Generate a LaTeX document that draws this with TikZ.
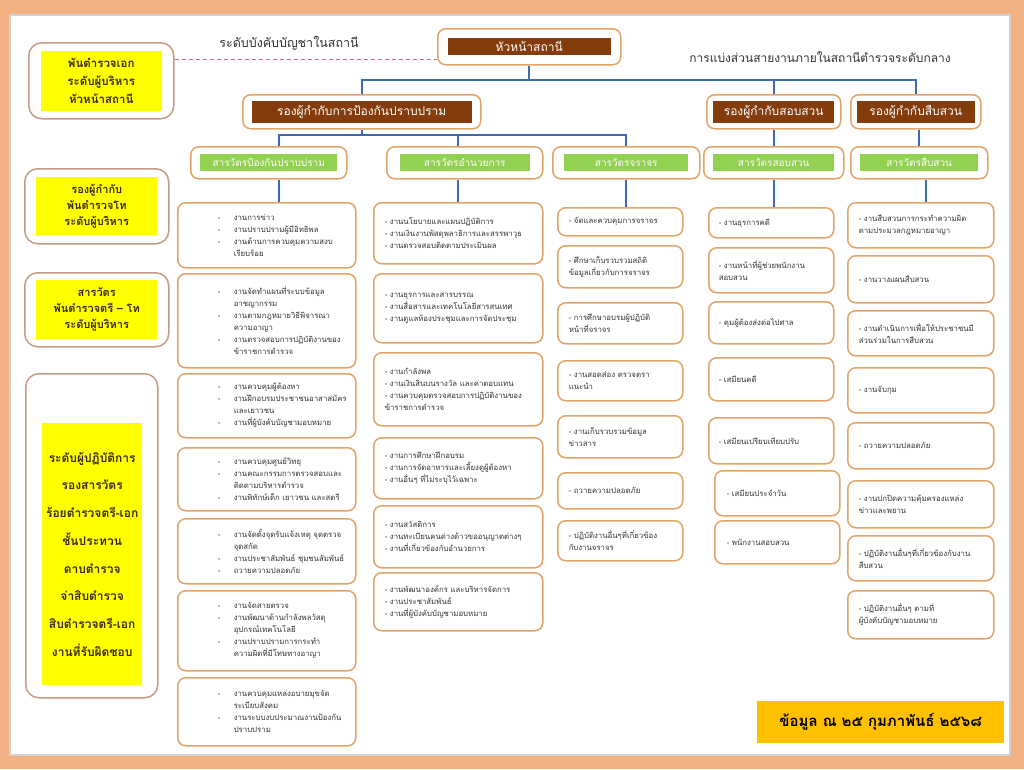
\documentclass[tikz,border=0pt]{standalone}
\usepackage{fontspec}
\setmainfont[Script=Thai]{Loma}
\definecolor{bg}{HTML}{F4B183}
\definecolor{pnl}{HTML}{D3D3D3}
\definecolor{boxc}{HTML}{E3A468}
\definecolor{lgdc}{HTML}{C99A86}
\definecolor{brn}{HTML}{843C0C}
\definecolor{grn}{HTML}{92D050}
\definecolor{ylw}{HTML}{FFFF00}
\definecolor{gold}{HTML}{FFC000}
\definecolor{lnc}{HTML}{3C6AB4}
\definecolor{dsh}{HTML}{D9667A}
\definecolor{txtc}{HTML}{333333}
\definecolor{lgt}{HTML}{3A2A10}
\newcommand{\tsz}{\fontsize{7.8}{12}\selectfont}
\newcommand{\da}{\hspace*{20pt}\makebox[16pt][l]{-}}
\newcommand{\db}{\hspace*{36pt}}
\tikzset{
  outer/.style={draw=boxc, line width=1.5pt, rounded corners=8pt, fill=white, inner sep=0pt, anchor=north west},
  task/.style={outer, inner xsep=0pt, inner ysep=2pt, align=left, font=\tsz, text=txtc},
  c1/.style={minimum width=178, text width=138},
  c2/.style={minimum width=169, text width=147},
  c3/.style={minimum width=125, text width=103},
  c4/.style={minimum width=125, text width=105},
  c5/.style={minimum width=146, text width=124},
  hd/.style={fill=brn, text=white, inner sep=0pt, font=\fontsize{12}{14}\selectfont},
  gr/.style={fill=grn, text=white, inner sep=0pt, minimum height=17, font=\fontsize{10}{12}\selectfont},
  lgd/.style={draw=lgdc, line width=1.5pt, rounded corners=13pt, fill=white, inner sep=0pt, anchor=north west},
  yel/.style={fill=ylw, text=lgt, inner sep=0pt, align=center, font=\bfseries\fontsize{11.5}{18}\selectfont},
  link/.style={draw=lnc, line width=2pt},
  dashln/.style={draw=dsh, line width=1.3pt, dash pattern=on 4pt off 3pt}
}
\begin{document}
\begin{tikzpicture}[x=1pt,y=-1pt]
\useasboundingbox (0,0) rectangle (1024,769);
\fill[bg] (0,0) rectangle (1024,769);
\filldraw[fill=white, draw=pnl, line width=2pt] (10,15) rectangle (1010,755);

% legend
\node[lgd, minimum width=145, minimum height=76] (l1) at (28,42) {};
\node[yel, minimum width=121, minimum height=60] (l1t) at (l1.center) {พันตำรวจเอก\\ระดับผู้บริหาร\\หัวหน้าสถานี};
\node[lgd, minimum width=144, minimum height=75] (l2) at (24,168) {};
\node[yel, minimum width=121, minimum height=58, font=\bfseries\fontsize{11}{16}\selectfont] (l2t) at (l2.center) {รองผู้กำกับ\\พันตำรวจโท\\ระดับผู้บริหาร};
\node[lgd, minimum width=144, minimum height=74] (l3) at (24,272) {};
\node[yel, minimum width=121, minimum height=59, font=\bfseries\fontsize{11}{16}\selectfont] (l3t) at (l3.center) {สารวัตร\\พันตำรวจตรี – โท\\ระดับผู้บริหาร};
\node[lgd, minimum width=132, minimum height=324] (l4) at (25,373) {};
\node[yel, anchor=north west, minimum width=100, minimum height=262, font=\bfseries\fontsize{12}{27.7}\selectfont] (l4t) at (42,423) {ระดับผู้ปฏิบัติการ\\รองสารวัตร\\ร้อยตำรวจตรี-เอก\\ชั้นประทวน\\ดาบตำรวจ\\จ่าสิบตำรวจ\\สิบตำรวจตรี-เอก\\งานที่รับผิดชอบ};

% head and deputies
\node[outer, minimum width=183, minimum height=36] (hq) at (437,28) {};
\node[hd, minimum width=163, minimum height=17] (hqt) at (hq.center) {หัวหน้าสถานี};
\node[font=\fontsize{12.5}{14}\selectfont, text=txtc] (lvl) at (289,43) {ระดับบังคับบัญชาในสถานี};
\node[font=\fontsize{12}{14}\selectfont, text=txtc] (div) at (820,57) {การแบ่งส่วนสายงานภายในสถานีตำรวจระดับกลาง};
\draw[dashln] ([yshift=21pt]l1.east) -- ([yshift=21pt]l1.east -| hq.west);

\node[outer, minimum width=238, minimum height=34] (d1) at (242,94) {};
\node[hd, minimum width=220, minimum height=22] (d1t) at (d1.center) {รองผู้กำกับการป้องกันปราบปราม};
\node[outer, minimum width=134, minimum height=34] (d2) at (706,94) {};
\node[hd, minimum width=121, minimum height=22] (d2t) at (d2.center) {รองผู้กำกับสอบสวน};
\node[outer, minimum width=130, minimum height=34] (d3) at (850,94) {};
\node[hd, minimum width=118, minimum height=22] (d3t) at (d3.center) {รองผู้กำกับสืบสวน};

% inspectors
\node[outer, minimum width=156, minimum height=32] (s1) at (190,146) {};
\node[gr, minimum width=137] (s1t) at (s1.center) {สารวัตรป้องกันปราบปราม};
\node[outer, minimum width=156, minimum height=32] (s2) at (386,146) {};
\node[gr, minimum width=130] (s2t) at (s2.center) {สารวัตรอำนวยการ};
\node[outer, minimum width=147, minimum height=32] (s3) at (552,146) {};
\node[gr, minimum width=124] (s3t) at (s3.center) {สารวัตรจราจร};
\node[outer, minimum width=140, minimum height=32] (s4) at (703,146) {};
\node[gr, minimum width=121] (s4t) at (s4.center) {สารวัตรสอบสวน};
\node[outer, minimum width=137, minimum height=32] (s5) at (850,146) {};
\node[gr, minimum width=118] (s5t) at (s5.center) {สารวัตรสืบสวน};

% prevention tasks
\node[task, c1, minimum height=65] (p1) at (177,202) {\da งานการข่าว\\\da งานปราบปรามผู้มีอิทธิพล\\\da งานด้านการควบคุมความสงบ\\\db เรียบร้อย};
\node[task, c1, minimum height=94] (p2) at (177,273) {\da งานจัดทำแผนที่ระบบข้อมูล\\\db อาชญากรรม\\\da งานตามกฎหมายวิธีพิจารณา\\\db ความอาญา\\\da งานตรวจสอบการปฏิบัติงานของ\\\db ข้าราชการตำรวจ};
\node[task, c1, minimum height=64] (p3) at (177,373) {\da งานควบคุมผู้ต้องหา\\\da งานฝึกอบรมประชาชนอาสาสมัคร\\\db และเยาวชน\\\da งานที่ผู้บังคับบัญชามอบหมาย};
\node[task, c1, minimum height=63] (p4) at (177,447) {\da งานควบคุมศูนย์วิทยุ\\\da งานคณะกรรมการตรวจสอบและ\\\db ติดตามบริหารตำรวจ\\\da งานพิทักษ์เด็ก~เยาวชน~และสตรี};
\node[task, c1, minimum height=65] (p5) at (177,518) {\da งานจัดตั้งจุดรับแจ้งเหตุ~จุดตรวจ\\\db จุดสกัด\\\da งานประชาสัมพันธ์~ชุมชนสัมพันธ์\\\da ถวายความปลอดภัย};
\node[task, c1, minimum height=80] (p6) at (177,590) {\da งานจัดสายตรวจ\\\da งานพัฒนาด้านกำลังพลวัสดุ\\\db อุปกรณ์เทคโนโลยี\\\da งานปราบปรามการกระทำ\\\db ความผิดที่มีโทษทางอาญา};
\node[task, c1, minimum height=68] (p7) at (177,677) {\da งานควบคุมแหล่งอบายมุขจัด\\\db ระเบียบสังคม\\\da งานระบบงบประมาณงานป้องกัน\\\db ปราบปราม};

% administration tasks
\node[task, c2, minimum height=61] (a1) at (373,202) {-~งานนโยบายและแผนปฏิบัติการ\\-~งานเงินงานพัสดุพลาธิการและสรรพาวุธ\\-~งานตรวจสอบติดตามประเมินผล};
\node[task, c2, minimum height=69] (a2) at (373,273) {-~งานธุรการและสารบรรณ\\-~งานสื่อสารและเทคโนโลยีสารสนเทศ\\-~งานดูแลห้องประชุมและการจัดประชุม};
\node[task, c2, minimum height=73] (a3) at (373,352) {-~งานกำลังพล\\-~งานเงินสินบนรางวัล~และค่าตอบแทน\\-~งานควบคุมตรวจสอบการปฏิบัติงานของ\\ข้าราชการตำรวจ};
\node[task, c2, minimum height=61] (a4) at (373,437) {-~งานการศึกษาฝึกอบรม\\-~งานการจัดอาหารและเลี้ยงดูผู้ต้องหา\\-~งานอื่นๆ~ที่ไม่ระบุไว้เฉพาะ};
\node[task, c2, minimum height=62] (a5) at (373,505) {-~งานสวัสดิการ\\-~งานทะเบียนคนต่างด้าวขออนุญาตต่างๆ\\-~งานที่เกี่ยวข้องกับอำนวยการ};
\node[task, c2, minimum height=58] (a6) at (373,572) {-~งานพัฒนาองค์กร~และบริหารจัดการ\\-~งานประชาสัมพันธ์\\-~งานที่ผู้บังคับบัญชามอบหมาย};

% traffic tasks
\node[task, c3, minimum height=28] (j1) at (557,207) {-~จัดและควบคุมการจราจร};
\node[task, c3, minimum height=42] (j2) at (557,245) {-~ศึกษาเก็บรวบรวมสถิติ\\ข้อมูลเกี่ยวกับการจราจร};
\node[task, c3, minimum height=41] (j3) at (557,302) {-~การศึกษาอบรมผู้ปฏิบัติ\\หน้าที่จราจร};
\node[task, c3, minimum height=40] (j4) at (557,360) {-~งานสอดส่อง~ตรวจตรา\\แนะนำ};
\node[task, c3, minimum height=42] (j5) at (557,415) {-~งานเก็บรวบรวมข้อมูล\\ข่าวสาร};
\node[task, c3, minimum height=36] (j6) at (557,472) {-~ถวายความปลอดภัย};
\node[task, c3, minimum height=40] (j7) at (557,520) {-~ปฏิบัติงานอื่นๆที่เกี่ยวข้อง\\กับงานจราจร};

% inquiry tasks
\node[task, c4, minimum height=30] (q1) at (708,207) {-~งานธุรการคดี};
\node[task, c4, minimum height=45] (q2) at (708,247) {-~งานหน้าที่ผู้ช่วยพนักงาน\\สอบสวน};
\node[task, c4, minimum height=42] (q3) at (708,301) {-~คุมผู้ต้องส่งต่อไปศาล};
\node[task, c4, minimum height=43] (q4) at (708,357) {-~เสมียนคดี};
\node[task, c4, minimum height=46] (q5) at (708,417) {-~เสมียนเปรียบเทียบปรับ};
\node[task, c4, minimum height=45, text width=101] (q6) at (714,470) {-~เสมียนประจำวัน};
\node[task, c4, minimum height=43, text width=101] (q7) at (714,520) {-~พนักงานสอบสวน};

% investigation tasks
\node[task, c5, minimum height=45] (v1) at (847,202) {-~งานสืบสวนการกระทำความผิด\\ตามประมวลกฎหมายอาญา};
\node[task, c5, minimum height=47] (v2) at (847,255) {-~งานวางแผนสืบสวน};
\node[task, c5, minimum height=45] (v3) at (847,310) {-~งานดำเนินการเพื่อให้ประชาชนมี\\ส่วนร่วมในการสืบสวน};
\node[task, c5, minimum height=45] (v4) at (847,367) {-~งานจับกุม};
\node[task, c5, minimum height=46] (v5) at (847,422) {-~ถวายความปลอดภัย};
\node[task, c5, minimum height=47] (v6) at (847,480) {-~งานปกปิดความคุ้มครองแหล่ง\\ข่าวและพยาน};
\node[task, c5, minimum height=45] (v7) at (847,535) {-~ปฏิบัติงานอื่นๆที่เกี่ยวข้องกับงาน\\สืบสวน};
\node[task, c5, minimum height=48] (v8) at (847,590) {-~ปฏิบัติงานอื่นๆ~ตามที่\\ผู้บังคับบัญชามอบหมาย};

% date
\node[fill=gold, anchor=north west, minimum width=247, minimum height=42, inner sep=0pt, font=\bfseries\fontsize{15}{18}\selectfont] (dt) at (757,701) {ข้อมูล ณ ๒๕ กุมภาพันธ์ ๒๕๖๘};

% connectors
\draw[link] (hq.south) -- ++(0,14) coordinate (hqbus);
\draw[link] (d1.north) |- (hqbus) -| (d3.north);
\draw[link] (d2.north) -- (d2.north |- hqbus);
\draw[link] (d1.south) -- ++(0,5) coordinate (d1bus);
\draw[link] ([xshift=10pt]s1.north) |- (d1bus) -| (s3.north);
\draw[link] ([xshift=-7pt]s2.north) -- ([xshift=-7pt]s2.north |- d1bus);
\draw[link] (d2.south) -- (s4.north);
\draw[link] (d3.south -| s5.north) -- (s5.north);
\draw[link] ([xshift=10pt]s1.south) -- ([xshift=10pt]s1.south |- p1.north);
\draw[link] ([xshift=-7pt]s2.south) -- ([xshift=-7pt]s2.south |- a1.north);
\draw[link] (s3.south) -- (s3.south |- j1.north);
\draw[link] (s4.south) -- (s4.south |- q1.north);
\draw[link] ([xshift=7pt]s5.south) -- ([xshift=7pt]s5.south |- v1.north);
\end{tikzpicture}
\end{document}
